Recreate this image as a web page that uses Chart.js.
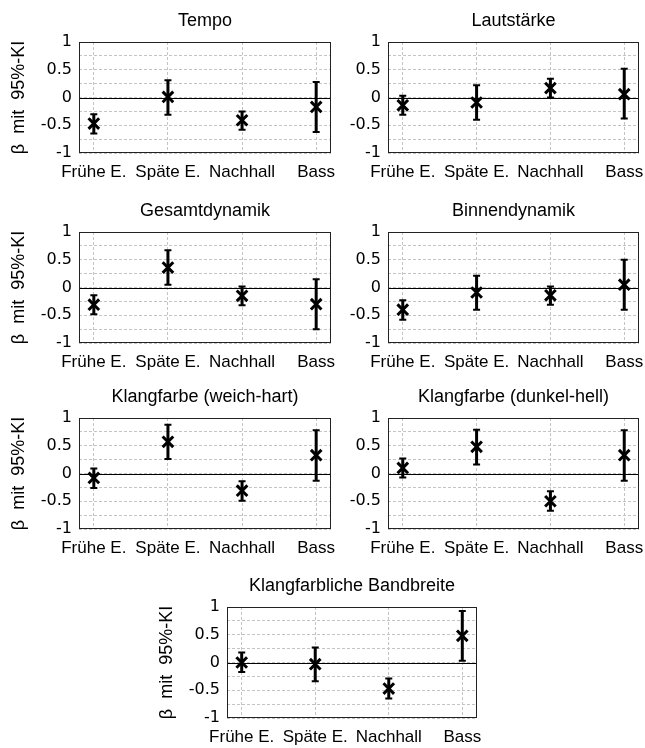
<!DOCTYPE html>
<html>
<head>
<meta charset="utf-8">
<script src="https://cdn.jsdelivr.net/npm/chart.js@4/dist/chart.umd.min.js"></script>
<style>
  html, body { margin: 0; padding: 0; background: #fff; width: 645px; height: 748px; overflow: hidden; }
  canvas { position: absolute; }
</style>
</head>
<body>
<script>
// Regressionskoeffizienten (beta) mit 95%-Konfidenzintervall je Merkmal
const categories = ['Frühe E.', 'Späte E.', 'Nachhall', 'Bass'];
const categoryPositions = [1, 2, 3, 4];
const yTicks = [-1, -0.75, -0.5, -0.25, 0, 0.25, 0.5, 0.75, 1];
const yAxisLabel = 'β  mit  95%-KI';

const tempoBeta = [-0.47, 0.01, -0.41, -0.17];
const tempoLow = [-0.65, -0.31, -0.58, -0.62];
const tempoHigh = [-0.30, 0.31, -0.25, 0.28];

const lautBeta = [-0.14, -0.09, 0.17, 0.06];
const lautLow = [-0.31, -0.40, 0.00, -0.38];
const lautHigh = [0.03, 0.22, 0.34, 0.52];

const gesamtBeta = [-0.31, 0.36, -0.15, -0.30];
const gesamtLow = [-0.48, 0.05, -0.32, -0.75];
const gesamtHigh = [-0.14, 0.67, 0.02, 0.15];

const binnenBeta = [-0.40, -0.09, -0.14, 0.05];
const binnenLow = [-0.58, -0.40, -0.31, -0.40];
const binnenHigh = [-0.23, 0.21, 0.02, 0.50];

const weichBeta = [-0.08, 0.57, -0.31, 0.33];
const weichLow = [-0.26, 0.26, -0.49, -0.13];
const weichHigh = [0.09, 0.88, -0.14, 0.78];

const dunkelBeta = [0.10, 0.48, -0.50, 0.33];
const dunkelLow = [-0.07, 0.16, -0.67, -0.13];
const dunkelHigh = [0.27, 0.79, -0.32, 0.78];

const breiteBeta = [0.00, -0.03, -0.47, 0.48];
const breiteLow = [-0.17, -0.34, -0.65, 0.03];
const breiteHigh = [0.18, 0.27, -0.29, 0.93];

const FONT = '"Liberation Sans", Arial, Helvetica, sans-serif';
const TICK_FONT = '"DejaVu Sans", "Liberation Sans", Arial, sans-serif';
const Y_AXIS_W = 75;
const TITLE_H = 40;
const X_AXIS_H = 35;
const RIGHT_PAD = 30;
const PLOT_H = 111;

// Position der Achsenfläche (Pixel) je Panel
const panels = [
  { title: 'Tempo', beta: tempoBeta, low: tempoLow, high: tempoHigh, left: 79, top: 42, width: 252, ylabel: true },
  { title: 'Lautstärke', beta: lautBeta, low: lautLow, high: lautHigh, left: 388, top: 42, width: 251, ylabel: false },
  { title: 'Gesamtdynamik', beta: gesamtBeta, low: gesamtLow, high: gesamtHigh, left: 79, top: 232, width: 252, ylabel: true },
  { title: 'Binnendynamik', beta: binnenBeta, low: binnenLow, high: binnenHigh, left: 388, top: 232, width: 251, ylabel: false },
  { title: 'Klangfarbe (weich-hart)', beta: weichBeta, low: weichLow, high: weichHigh, left: 79, top: 418, width: 252, ylabel: true },
  { title: 'Klangfarbe (dunkel-hell)', beta: dunkelBeta, low: dunkelLow, high: dunkelHigh, left: 388, top: 418, width: 251, ylabel: false },
  { title: 'Klangfarbliche Bandbreite', beta: breiteBeta, low: breiteLow, high: breiteHigh, left: 227, top: 607, width: 250, ylabel: true }
];

const zeroLinePlugin = {
  id: 'zeroLine',
  beforeDatasetsDraw(chart) {
    const { ctx, chartArea, scales } = chart;
    const y = Math.round(scales.y.getPixelForValue(0)) + 0.5;
    ctx.save();
    ctx.strokeStyle = '#000';
    ctx.lineWidth = 1;
    ctx.beginPath();
    ctx.moveTo(chartArea.left, y);
    ctx.lineTo(chartArea.right, y);
    ctx.stroke();
    ctx.restore();
  }
};

const errorBarPlugin = {
  id: 'errorBars',
  afterDatasetsDraw(chart, args, opts) {
    const { ctx, scales } = chart;
    ctx.save();
    ctx.strokeStyle = '#000';
    opts.low.forEach((lo, i) => {
      const x = scales.x.getPixelForValue(categoryPositions[i]);
      const y1 = scales.y.getPixelForValue(lo);
      const y2 = scales.y.getPixelForValue(opts.high[i]);
      ctx.lineWidth = 3;
      ctx.beginPath();
      ctx.moveTo(x, y1);
      ctx.lineTo(x, y2);
      ctx.stroke();
      ctx.lineWidth = 2;
      ctx.beginPath();
      ctx.moveTo(x - 3.5, y1);
      ctx.lineTo(x + 3.5, y1);
      ctx.moveTo(x - 3.5, y2);
      ctx.lineTo(x + 3.5, y2);
      ctx.stroke();
    });
    ctx.restore();
  }
};

const framePlugin = {
  id: 'frame',
  afterDatasetsDraw(chart) {
    const { ctx, chartArea } = chart;
    ctx.save();
    ctx.strokeStyle = '#222';
    ctx.lineWidth = 1;
    ctx.strokeRect(Math.round(chartArea.left) + 0.5, Math.round(chartArea.top) + 0.5,
      Math.round(chartArea.width) - 1, Math.round(chartArea.height) - 1);
    ctx.restore();
  }
};

function makePanel(p) {
  const canvas = document.createElement('canvas');
  const w = p.width + Y_AXIS_W + RIGHT_PAD;
  const h = PLOT_H + TITLE_H + X_AXIS_H;
  canvas.width = w;
  canvas.height = h;
  canvas.style.left = (p.left - Y_AXIS_W) + 'px';
  canvas.style.top = (p.top - TITLE_H) + 'px';
  document.body.appendChild(canvas);

  new Chart(canvas.getContext('2d'), {
    type: 'scatter',
    data: {
      datasets: [{
        data: p.beta.map((b, i) => ({ x: categoryPositions[i], y: b })),
        pointStyle: 'crossRot',
        pointRadius: 7.5,
        pointBorderWidth: 3,
        borderColor: '#000',
        backgroundColor: '#000'
      }]
    },
    options: {
      responsive: false,
      animation: false,
      devicePixelRatio: 1,
      layout: { padding: { left: 0, right: RIGHT_PAD, top: 0, bottom: 0 } },
      plugins: {
        legend: { display: false },
        tooltip: { enabled: false },
        title: {
          display: true,
          text: p.title,
          fullSize: false,
          color: '#000',
          font: { family: FONT, size: 18, weight: 'normal', lineHeight: 1 },
          padding: { top: 10, bottom: 12 }
        },
        errorBars: { low: p.low, high: p.high }
      },
      scales: {
        x: {
          type: 'linear',
          min: 0.8,
          max: 4.2,
          afterBuildTicks: s => { s.ticks = categoryPositions.map(v => ({ value: v })); },
          afterFit: s => { s.height = X_AXIS_H; },
          ticks: {
            autoSkip: false,
            maxRotation: 0,
            padding: 9,
            color: '#000',
            font: { family: FONT, size: 17 },
            callback: v => categories[v - 1]
          },
          grid: { color: '#c4c4c4', drawTicks: false, lineWidth: 1 },
          border: { display: false, dash: [3, 2] }
        },
        y: {
          min: -1,
          max: 1,
          afterBuildTicks: s => { s.ticks = yTicks.map(v => ({ value: v })); },
          afterFit: s => { s.width = Y_AXIS_W; },
          ticks: {
            autoSkip: false,
            padding: 7,
            color: '#000',
            font: { family: TICK_FONT, size: 16 },
            callback: v => (Number.isInteger(v * 2) ? String(v) : '')
          },
          grid: { color: '#c4c4c4', drawTicks: false, lineWidth: 1 },
          border: { display: false, dash: [3, 2] },
          title: {
            display: p.ylabel,
            text: yAxisLabel,
            color: '#000',
            font: { family: FONT, size: 18 },
            padding: { top: 4, bottom: 4 }
          }
        }
      }
    },
    plugins: [zeroLinePlugin, errorBarPlugin, framePlugin]
  });
}

panels.forEach(makePanel);
</script>
</body>
</html>
